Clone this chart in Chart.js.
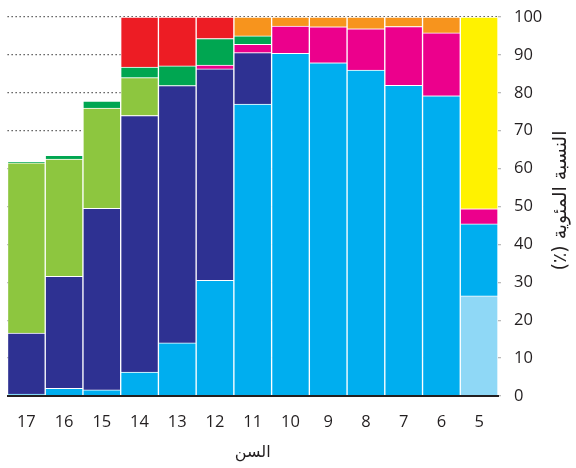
<!DOCTYPE html>
<html lang="ar">
<head>
<meta charset="utf-8">
<script src="https://cdn.jsdelivr.net/npm/chart.js@4/dist/chart.umd.min.js"></script>
<style>
  html, body { margin: 0; padding: 0; background: #fff; }
</style>
</head>
<body>
<canvas id="chart" width="576" height="468"></canvas>
<script>
// ages run from 17 down to 5, left to right
const ages = ['17', '16', '15', '14', '13', '12', '11', '10', '9', '8', '7', '6', '5'];

// stacked shares (%), bottom to top
const lightBlue  = [null, null, null, null, null, null, null, null, null, null, null, null, 26.4];
const cyan       = [0.5, 2, 1.6, 6.3, 14, 30.5, 77, 90.4, 87.9, 86, 82, 79.2, 19];
const darkBlue   = [16.1, 29.6, 47.9, 67.7, 67.9, 55.8, 13.6, null, null, null, null, null, null];
const lightGreen = [44.9, 30.9, 26.5, 10, null, null, null, null, null, null, null, null, null];
const magenta    = [null, null, null, null, null, 1, 2.2, 7.2, 9.5, 10.9, 15.5, 16.6, 4];
const green      = [0.3, 1, 1.8, 2.8, 5.2, 7, 2.2, null, null, null, null, null, null];
const red        = [null, null, null, 13.2, 12.9, 5.7, null, null, null, null, null, null, null];
const orange     = [null, null, null, null, null, null, 5, 2.4, 2.6, 3.1, 2.5, 4.2, null];
const yellow     = [null, null, null, null, null, null, null, null, null, null, null, null, 50.6];

const yTicks = [0, 10, 20, 30, 40, 50, 60, 70, 80, 90, 100];
const xTitle = 'السن';
const yTitle = 'النسبة المئوية (٪)';

const textColor = '#231f20';
const tickFont = { family: '"Open Sans", "DejaVu Sans", sans-serif', size: 16.5 };

const series = [
  [lightBlue, '#8fd8f6'],
  [cyan, '#00aeef'],
  [darkBlue, '#2e3192'],
  [lightGreen, '#8dc63f'],
  [magenta, '#ec008c'],
  [green, '#00a651'],
  [red, '#ed1c24'],
  [orange, '#f7941d'],
  [yellow, '#fff200']
];

// rotated y title reading bottom-to-top, drawn by hand
const yTitlePlugin = {
  id: 'yTitle',
  afterDraw(chart) {
    const { ctx, chartArea } = chart;
    ctx.save();
    ctx.translate(561, (chartArea.top + chartArea.bottom) / 2 - 6);
    ctx.rotate(-Math.PI / 2);
    ctx.direction = 'rtl';
    ctx.textAlign = 'center';
    ctx.textBaseline = 'middle';
    ctx.font = '19px "DejaVu Sans", sans-serif';
    ctx.fillStyle = textColor;
    ctx.fillText(yTitle, 0, 0);
    ctx.restore();
  }
};

new Chart(document.getElementById('chart'), {
  type: 'bar',
  data: {
    labels: ages,
    datasets: series.map(([data, color]) => ({
      data,
      backgroundColor: color,
      borderColor: '#ffffff',
      borderWidth: 1,
      categoryPercentage: 1,
      barPercentage: 1
    }))
  },
  options: {
    responsive: false,
    animation: false,
    devicePixelRatio: 1,
    layout: { padding: { left: 7.5, top: 17, right: 0, bottom: 0 } },
    plugins: { legend: { display: false }, tooltip: { enabled: false } },
    scales: {
      x: {
        stacked: true,
        grid: { display: false, drawTicks: false },
        border: { display: true, color: textColor, width: 2, z: 1 },
        ticks: { color: textColor, font: tickFont, padding: 16 },
        title: {
          display: true, text: xTitle, color: textColor,
          font: { family: '"DejaVu Sans", sans-serif', size: 16 },
          padding: { top: 4, bottom: 6 }
        },
        afterFit(s) { s.height = 72; }
      },
      y: {
        stacked: true,
        position: 'right',
        min: 0,
        max: 100,
        afterBuildTicks(s) { s.ticks = yTicks.map(v => ({ value: v })); },
        grid: { color: '#444', lineWidth: 1.3, tickLength: 3, tickColor: '#bbb', tickBorderDash: [] },
        border: { display: false, dash: [1.3, 2.7] },
        ticks: { color: textColor, font: tickFont, padding: 13 },
        afterFit(s) {
          s.width = 78;
          s.paddingTop = 0;
          s.paddingBottom = 0;
        }
      }
    }
  },
  plugins: [yTitlePlugin]
});
</script>
</body>
</html>
